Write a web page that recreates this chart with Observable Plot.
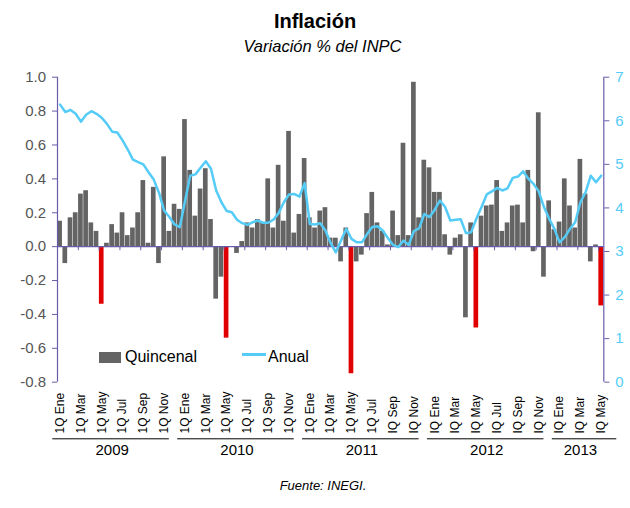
<!DOCTYPE html>
<html>
<head>
<meta charset="utf-8">
<script src="https://cdn.jsdelivr.net/npm/d3@7"></script>
<script src="https://cdn.jsdelivr.net/npm/@observablehq/plot@0.6"></script>
<style>
  html, body { margin: 0; padding: 0; background: #fff; }
  body { font-family: "Liberation Sans", Arial, sans-serif; }
  #wrap { position: relative; width: 630px; height: 508px; overflow: hidden; }
  .abs { position: absolute; white-space: nowrap; }
  #title { left: 0; width: 630px; text-align: center; top: 11px; font-size: 20px; line-height: 20px; font-weight: bold; color: #000; padding-right: 0px; }
  #subtitle { left: 0; width: 645px; text-align: center; top: 38px; font-size: 16.5px; line-height: 16.5px; font-style: italic; color: #000; }
  #caption { left: 0; width: 646px; text-align: center; top: 479px; font-size: 13px; line-height: 13px; font-style: italic; color: #000; }
  #chart { position: absolute; left: 0; top: 60px; }
  .leg-text { font-size: 16px; line-height: 16px; color: #000; top: 348.5px; }
</style>
</head>
<body>
<div id="wrap">
  <div id="title" class="abs">Inflación</div>
  <div id="subtitle" class="abs">Variación % del INPC</div>
  <div id="chart"></div>
  <div class="abs" style="left:99px; top:351.7px; width:22px; height:11px; background:#646464;"></div>
  <div class="abs leg-text" style="left:125px;">Quincenal</div>
  <div class="abs" style="left:241.7px; top:353.2px; width:24px; height:3px; background:#55ccf7;"></div>
  <div class="abs leg-text" style="left:268px;">Anual</div>
  <div id="caption" class="abs">Fuente: INEGI.</div>
</div>
<script>
// ---- Data ----
const years = [2009, 2010, 2011, 2012, 2013];
const months = ["Ene","Feb","Mar","Abr","May","Jun","Jul","Ago","Sep","Oct","Nov","Dic"];

// Biweekly (quincenal) inflation, % — 1Q Ene 2009 … 1Q May 2013
const quincenal = [
  0.15, -0.10, 0.17, 0.20, 0.31, 0.33, 0.14, 0.09, -0.34, 0.02, 0.13, 0.08,
  0.20, 0.065, 0.11, 0.20, 0.39, 0.02, 0.35, -0.10, 0.53, 0.09, 0.25, 0.22,
  0.75, 0.45, 0.18, 0.34, 0.46, 0.16, -0.31, -0.18, -0.54, 0.00, -0.04, 0.03,
  0.14, 0.11, 0.16, 0.14, 0.40, 0.11, 0.48, 0.15, 0.68, 0.08, 0.19, 0.52,
  0.17, 0.11, 0.21, 0.23, 0.05, 0.05, -0.09, 0.11, -0.75, -0.09, -0.05, 0.195,
  0.32, 0.14, 0.09, 0.01, 0.21, 0.065, 0.61, 0.065, 0.97, 0.17, 0.51, 0.465,
  0.32, 0.32, 0.07, -0.05, 0.05, 0.07, -0.42, 0.14, -0.48, 0.18, 0.24, 0.245,
  0.39, 0.09, 0.14, 0.24, 0.245, 0.14, 0.45, -0.03, 0.79, -0.18, 0.27, 0.10,
  0.145, 0.40, 0.24, 0.11, 0.515, 0.31, -0.09, 0.01, -0.35
];

// Annual inflation, % (right axis)
const anual = [
  6.37, 6.20, 6.25, 6.16, 5.98, 6.14, 6.22, 6.16, 6.07, 5.93, 5.75, 5.73,
  5.55, 5.34, 5.11, 5.05, 5.00, 4.82, 4.65, 4.35, 3.94, 3.79, 3.62, 3.56,
  4.15, 4.74, 4.77, 4.92, 5.07, 4.90, 4.40, 4.13, 3.93, 3.90, 3.73, 3.65,
  3.61, 3.67, 3.71, 3.66, 3.66, 3.73, 3.88, 4.13, 4.31, 4.32, 4.26, 4.57,
  3.63, 3.62, 3.65, 3.48, 3.19, 2.98, 3.25, 3.52, 3.29, 3.21, 3.21, 3.40,
  3.56, 3.58, 3.48, 3.31, 3.15, 3.10, 3.25, 3.15, 3.47, 3.53, 3.86, 3.79,
  3.96, 4.17, 4.02, 3.71, 3.73, 3.74, 3.42, 3.44, 3.75, 4.02, 4.31, 4.38,
  4.46, 4.40, 4.45, 4.69, 4.72, 4.84, 4.67, 4.55, 4.38, 4.02, 3.75, 3.52,
  3.21, 3.33, 3.52, 3.67, 4.13, 4.36, 4.74, 4.59, 4.74
];

// Axis tick labels (x axis: every 4th biweekly period)
const xTickLabels = [
  ["1Q Ene","1Q Mar","1Q May","1Q Jul","1Q Sep","1Q Nov"],
  ["1Q Ene","1Q Mar","1Q May","1Q Jul","1Q Sep","1Q Nov"],
  ["1Q Ene","1Q Mar","1Q May","1Q Jul","IQ Sep","IQ Nov"],
  ["IQ Ene","IQ Mar","IQ May","IQ Jul","IQ Sep","IQ Nov"],
  ["IQ Ene","IQ Mar","IQ May"]
];
const leftTicks = [-0.8, -0.6, -0.4, -0.2, 0, 0.2, 0.4, 0.6, 0.8, 1.0];
const rightTicks = [0, 1, 2, 3, 4, 5, 6, 7];
const highlightPeriod = "1Q May";

// ---- Build table ----
const periods = [];
years.forEach(y => months.forEach(m => { periods.push({year: y, q: "1Q " + m}); periods.push({year: y, q: "2Q " + m}); }));
const data = quincenal.map((v, i) => ({i, v, anual: anual[i], year: periods[i].year, q: periods[i].q}));

const yMin = -0.8, yMax = 1.0, rMax = 7;
const toLeft = r => yMin + r * (yMax - yMin) / rMax;
const fromLeft = v => (v - yMin) * rMax / (yMax - yMin);

const labelData = [];
const yearData = [];
let k = 0;
xTickLabels.forEach((lbls, yi) => {
  const first = k * 4;
  lbls.forEach(t => { labelData.push({i: k * 4, text: t}); k++; });
  const last = (k - 1) * 4;
  yearData.push({year: years[yi], center: (first + last) / 2, x1: first - 1.4, x2: Math.min(first + 21, 107)});
});

const purple = "#6a5aaa", gray = "#646464", red = "#e00000", cyan = "#55ccf7", textGray = "#555555";
const n = quincenal.length;

const chart = Plot.plot({
  width: 630,
  height: 410,
  marginLeft: 57,
  marginRight: 26.7,
  marginTop: 16.7,
  marginBottom: 88.3,
  x: {domain: [-0.5, n - 0.5], axis: null},
  y: {domain: [yMin, yMax], axis: null},
  style: {fontFamily: "'Liberation Sans', Arial, sans-serif", background: "transparent"},
  marks: [
    Plot.rect(data, {
      x1: d => d.i - 0.45, x2: d => d.i + 0.45, y1: 0, y2: "v",
      fill: d => d.q === highlightPeriod ? red : gray
    }),
    Plot.ruleY([0], {stroke: purple, strokeWidth: 1.2}),
    Plot.ruleX(labelData.filter(d => d.i > 0), {x: d => d.i - 0.5, y1: 0, y2: -0.024, stroke: purple}),
    Plot.line(data, {x: "i", y: d => toLeft(d.anual), stroke: cyan, strokeWidth: 2.5, strokeLinejoin: "round"}),
    Plot.ruleX([-0.5], {y1: yMin, y2: yMax, stroke: purple, strokeWidth: 1.2}),
    Plot.ruleX([n - 0.5], {y1: yMin, y2: yMax, stroke: purple, strokeWidth: 1.2}),
    Plot.axisY(leftTicks, {
      anchor: "left", label: null, tickSize: 5, tickPadding: 6.5,
      tickFormat: d => d.toFixed(1), stroke: purple, fill: textGray, fontSize: 15
    }),
    Plot.axisY(rightTicks.map(toLeft), {
      anchor: "right", label: null, tickSize: 5, tickPadding: 6.5,
      tickFormat: d => String(Math.round(fromLeft(d))), stroke: purple, fill: cyan, fontSize: 15
    }),
    Plot.text(labelData, {
      x: "i", y: yMin, text: "text", rotate: -90, textAnchor: "start",
      dy: 51.3, fontSize: 12, fill: "#000"
    }),
    Plot.ruleY(yearData, {y: yMin, x1: "x1", x2: "x2", dy: 56.6, stroke: "#000", strokeWidth: 1}),
    Plot.text(yearData, {
      x: "center", y: yMin, text: d => String(d.year), dy: 68, fontSize: 15, fill: "#000"
    })
  ]
});
document.getElementById("chart").appendChild(chart);
</script>
</body>
</html>
